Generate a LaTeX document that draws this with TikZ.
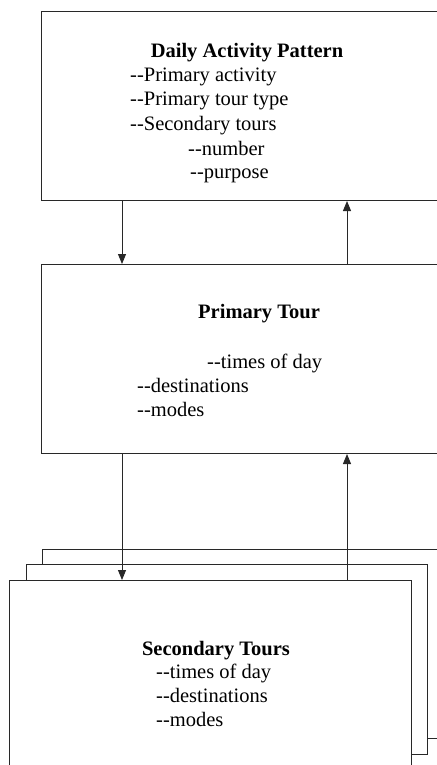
\documentclass[tikz,border=0pt]{standalone}
\usepackage{fontspec}
\setmainfont{Liberation Serif}
\usetikzlibrary{positioning, arrows.meta}
\definecolor{LineColor}{RGB}{40,40,40}
\tikzset{
  panel/.style={draw=LineColor, line width=1pt, fill=white, anchor=north west, inner sep=0pt},
  item/.style={anchor=base west, inner sep=0pt, font=\fontsize{20.5}{24}\selectfont},
  head/.style={anchor=base, inner sep=0pt, font=\fontsize{20.5}{24}\selectfont\bfseries},
  flow/.style={LineColor, line width=1pt, -{Triangle[length=10pt,width=8pt]}},
}
\begin{document}
\begin{tikzpicture}[x=1pt,y=-1pt]
\useasboundingbox (0,0) rectangle (436,765);
\coordinate (xl) at (122,0);
\coordinate (xr) at (347,0);

% Daily activity pattern
\node[panel, minimum width=460pt, minimum height=189pt] (dap) at (41,11) {};
\node[head] (dapT) at (247,58) {Daily Activity Pattern};
\node[item] (dap1) at (130,82) {-{}-Primary activity};
\node[item] (dap2) at (130,106) {-{}-Primary tour type};
\node[item] (dap3) at (130,130) {-{}-Secondary tours};
\node[item] (dap4) at (188,155) {-{}-number};
\node[item] (dap5) at (190,178) {-{}-purpose};

% Primary tour
\node[panel, minimum width=460pt, minimum height=189pt] (pt) at (41,264) {};
\node[head] (ptT) at (259,318) {Primary Tour};
\node[item] (pt1) at (207,368) {-{}-times of day};
\node[item] (pt2) at (137,392) {-{}-destinations};
\node[item] (pt3) at (137,416) {-{}-modes};

\draw[flow] (dap.south -| xl) -- (pt.north -| xl);
\draw[flow] (pt.north -| xr) -- (dap.south -| xr);

% Secondary tours (stack)
\node[panel, minimum width=460pt, minimum height=189pt] (st3) at (42,549) {};
\node[panel, minimum width=401pt, minimum height=190pt] (st2) at (26,564) {};
\node[panel, minimum width=402pt, minimum height=200pt] (st1) at (9,580) {};
\node[head] (stT) at (216,655) {Secondary Tours};
\node[item] (st1a) at (156,678) {-{}-times of day};
\node[item] (st1b) at (156,702) {-{}-destinations};
\node[item] (st1c) at (156,726) {-{}-modes};

\draw[flow] (pt.south -| xl) -- (st1.north -| xl);
\draw[flow] (st1.north -| xr) -- (pt.south -| xr);
\end{tikzpicture}
\end{document}
